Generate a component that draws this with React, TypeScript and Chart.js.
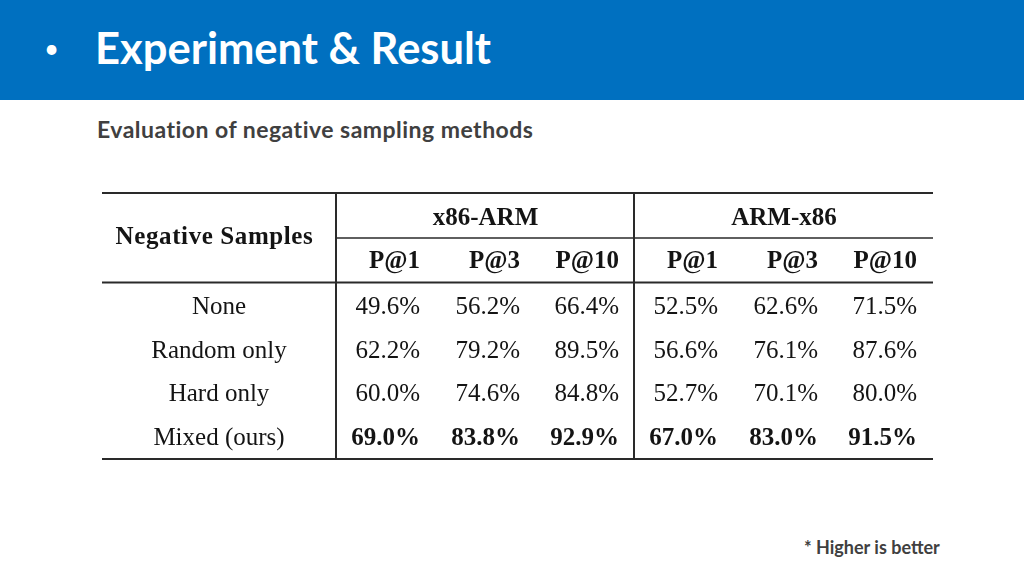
import React, { useEffect, useRef } from "react";
import { Chart, registerables } from "chart.js";

Chart.register(...registerables);

// ---- data ----
const methods = ["None", "Random only", "Hard only", "Mixed (ours)"];
const groups = ["x86-ARM", "ARM-x86"];
const metrics = ["P@1", "P@3", "P@10"];
const x86ArmP1 = [49.6, 62.2, 60.0, 69.0];
const x86ArmP3 = [56.2, 79.2, 74.6, 83.8];
const x86ArmP10 = [66.4, 89.5, 84.8, 92.9];
const armX86P1 = [52.5, 56.6, 52.7, 67.0];
const armX86P3 = [62.6, 76.1, 70.1, 83.0];
const armX86P10 = [71.5, 87.6, 80.0, 91.5];
const boldMethod = "Mixed (ours)";
const rowHeader = "Negative Samples";

const valueColumns = [x86ArmP1, x86ArmP3, x86ArmP10, armX86P1, armX86P3, armX86P10];

// ---- layout (page-pixel units on the hidden linear scales) ----
const colRight = [420, 520, 619, 718, 818, 917];
const groupCenter = [485.5, 784];
const labelCenter = 219;
const rowBase0 = 314;
const rowStep = 43.6;
const tableLeft = 102;
const tableRight = 933;
const divX = [336, 634];

const tablePlugin = {
  id: "tablePlugin",
  afterDraw(chart: any) {
    const ctx = chart.ctx as CanvasRenderingContext2D;
    const xs = chart.scales.x;
    const ys = chart.scales.y;
    const X = (v: number) => xs.getPixelForValue(v);
    const Y = (v: number) => ys.getPixelForValue(v);
    const ink = "#141414";
    ctx.save();
    ctx.strokeStyle = "#2a2a2a";
    const hline = (x1: number, x2: number, y: number, w: number) => {
      ctx.lineWidth = w;
      ctx.beginPath();
      ctx.moveTo(X(x1), Y(y));
      ctx.lineTo(X(x2), Y(y));
      ctx.stroke();
    };
    const vline = (x: number, y1: number, y2: number, w: number) => {
      ctx.lineWidth = w;
      ctx.beginPath();
      ctx.moveTo(X(x), Y(y1));
      ctx.lineTo(X(x), Y(y2));
      ctx.stroke();
    };
    hline(tableLeft, tableRight, 193, 2);
    hline(divX[0], tableRight, 238, 1.6);
    hline(tableLeft, tableRight, 282.5, 2);
    hline(tableLeft, tableRight, 459, 2);
    vline(divX[0], 193, 459, 2);
    vline(divX[1], 193, 459, 2);

    ctx.fillStyle = ink;
    ctx.textBaseline = "alphabetic";
    const serif = '"Liberation Serif", "Times New Roman", serif';

    // headers
    ctx.font = `bold 25px ${serif}`;
    ctx.textAlign = "center";
    (ctx as any).letterSpacing = "0.6px";
    ctx.fillText(rowHeader, X(214.5), Y(243.5));
    (ctx as any).letterSpacing = "0px";
    groups.forEach((g, i) => ctx.fillText(g, X(groupCenter[i]), Y(225)));
    ctx.textAlign = "right";
    groups.forEach((_, gi) =>
      metrics.forEach((m, mi) => ctx.fillText(m, X(colRight[gi * 3 + mi]), Y(268)))
    );

    // rows
    methods.forEach((name, r) => {
      const y = rowBase0 + r * rowStep;
      const bold = name === boldMethod;
      ctx.font = `25px ${serif}`;
      ctx.textAlign = "center";
      ctx.fillText(name, X(labelCenter), Y(y));
      ctx.font = `${bold ? "bold " : ""}25px ${serif}`;
      ctx.textAlign = "right";
      valueColumns.forEach((col, c) => {
        ctx.fillText(col[r].toFixed(1) + "%", X(colRight[c]), Y(y));
      });
    });
    ctx.restore();
  },
};

export default function App() {
  const ref = useRef<HTMLCanvasElement>(null);
  useEffect(() => {
    document.body.style.margin = "0";
    const chart = new Chart(ref.current!, {
      type: "scatter",
      data: {
        datasets: valueColumns.map((col, c) => ({
          label: groups[Math.floor(c / 3)] + " " + metrics[c % 3],
          data: col.map((v, r) => ({ x: colRight[c], y: rowBase0 + r * rowStep })),
          pointRadius: 0,
        })),
      },
      options: {
        animation: false,
        responsive: false,
        maintainAspectRatio: false,
        layout: { padding: 0 },
        plugins: { legend: { display: false }, tooltip: { enabled: false } },
        scales: {
          x: { type: "linear", min: 0, max: 1024, display: false },
          y: { type: "linear", min: 0, max: 576, reverse: true, display: false },
        },
      },
      plugins: [tablePlugin],
    });
    return () => chart.destroy();
  }, []);

  const sans = '"Lato", "Open Sans", sans-serif';
  return (
    <div style={{ position: "absolute", left: 0, top: 0, width: 1024, height: 576, background: "#fff", overflow: "hidden" }}>
      <div style={{ position: "absolute", left: 0, top: 0, width: 1024, height: 100, background: "#0070C0" }} />
      <div style={{ position: "absolute", left: 44, top: 30, color: "#fff", fontFamily: sans, fontSize: 26, lineHeight: "36px" }}>•</div>
      <div style={{ position: "absolute", left: 95, top: 22, color: "#fff", fontFamily: sans, fontWeight: 700, fontSize: 43.5, lineHeight: "50px", whiteSpace: "nowrap" }}>
        Experiment &amp; Result
      </div>
      <div style={{ position: "absolute", left: 97, top: 116, color: "#404040", fontFamily: sans, fontWeight: 700, fontSize: 23, letterSpacing: 0.48, lineHeight: "26px", whiteSpace: "nowrap" }}>
        Evaluation of negative sampling methods
      </div>
      <div style={{ position: "absolute", left: 804, top: 536, color: "#404040", fontFamily: sans, fontWeight: 700, fontSize: 18, lineHeight: "22px", whiteSpace: "nowrap" }}>
        * Higher is better
      </div>
      <canvas ref={ref} width={1024} height={576} style={{ position: "absolute", left: 0, top: 0, width: 1024, height: 576 }} />
    </div>
  );
}
